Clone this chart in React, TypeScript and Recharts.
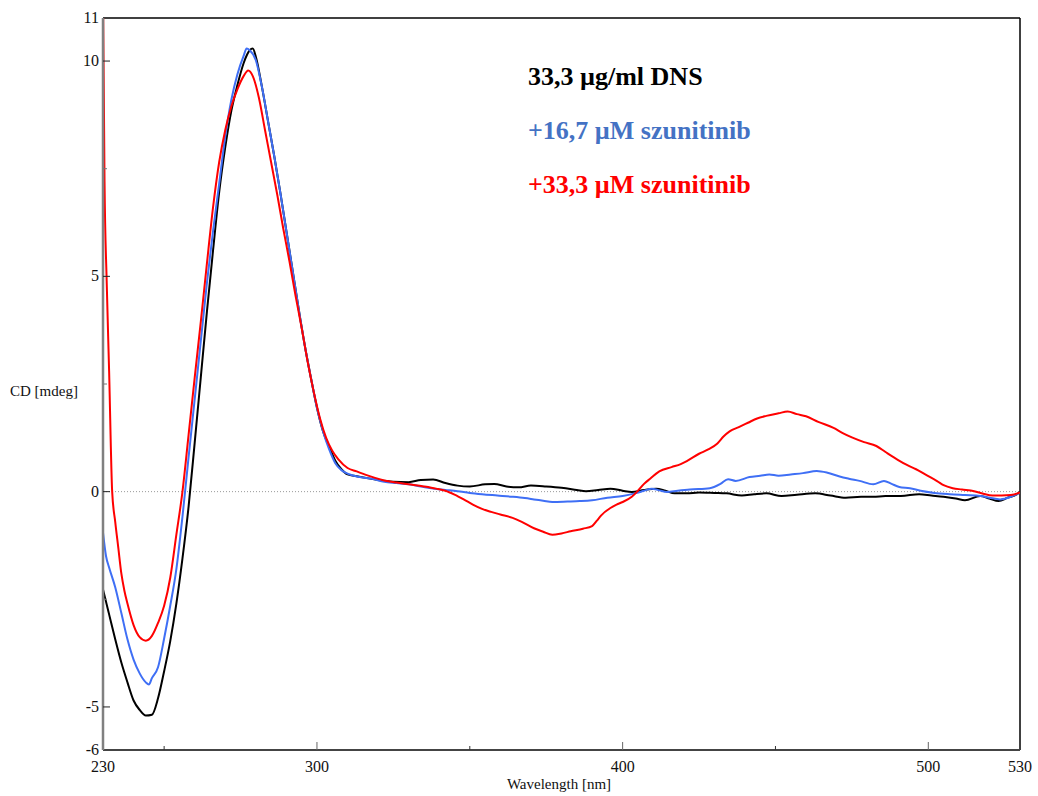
import React from "react";
import { LineChart, Line, XAxis, YAxis, ReferenceLine } from "recharts";

const xTicks = [230, 250, 300, 350, 400, 450, 500, 530];
const xLabelTicks = [230, 300, 400, 500, 530];
const xMajorTicks = [300, 400, 500];
const yTicks = [-6, -5, -2.5, 0, 2.5, 5, 7.5, 10, 11];
const yLabelTicks = [-6, -5, 0, 5, 10, 11];
const yMajorTicks = [-5, 0, 5, 10];

const legendLabels = ["33,3 µg/ml DNS", "+16,7 µM szunitinib", "+33,3 µM szunitinib"];

const blackWl = [230, 232, 234, 236, 238, 240, 242, 244, 246, 248, 250, 252, 254, 256, 258, 260, 262, 264, 266, 268, 270, 272, 274, 276, 278, 279, 280, 282, 284, 286, 288, 290, 292, 294, 296, 298, 300, 302, 304, 306, 308, 310, 313, 316, 320, 325, 330, 334, 338, 342, 346, 350, 355, 358, 362, 366, 370, 375, 380, 385, 388, 392, 396, 400, 403, 407, 411, 414, 417, 421, 425, 430, 434, 439, 443, 447, 452, 457, 463, 468, 473, 478, 482, 486, 491, 497, 501, 505, 509, 512, 517, 520, 523, 526, 529, 530];
const blackCd = [-2.27, -2.85, -3.43, -3.97, -4.43, -4.85, -5.07, -5.2, -5.18, -4.8, -4.17, -3.47, -2.6, -1.55, -0.35, 1.14, 2.66, 4.18, 5.6, 6.95, 8.0, 8.85, 9.45, 9.95, 10.25, 10.29, 10.1, 9.4, 8.6, 7.8, 6.95, 6.05, 5.15, 4.25, 3.4, 2.65, 1.95, 1.4, 1.05, 0.72, 0.52, 0.4, 0.36, 0.32, 0.27, 0.23, 0.22, 0.27, 0.28, 0.2, 0.14, 0.12, 0.17, 0.18, 0.12, 0.1, 0.14, 0.12, 0.09, 0.04, 0.01, 0.04, 0.07, 0.02, -0.01, 0.04, 0.07, 0.02, -0.04, -0.04, -0.02, -0.03, -0.04, -0.09, -0.06, -0.04, -0.1, -0.07, -0.04, -0.09, -0.14, -0.12, -0.12, -0.1, -0.1, -0.06, -0.09, -0.12, -0.16, -0.2, -0.1, -0.16, -0.22, -0.14, -0.06, 0.0];

const blueWl = [230, 231, 232, 234, 236, 238, 240, 242, 244, 245, 246, 248, 250, 252, 254, 256, 258, 260, 262, 264, 266, 268, 270, 272, 274, 276, 277, 278, 280, 282, 284, 286, 288, 290, 292, 294, 296, 298, 300, 302, 304, 306, 308, 310, 314, 318, 322, 326, 330, 334, 338, 342, 346, 350, 354, 359, 364, 368, 371, 374, 377, 382, 386, 390, 395, 400, 404, 407, 409.5, 412, 414.5, 418, 422, 428.5, 432, 434.5, 437, 441.5, 445, 448, 451, 455, 459, 463.5, 467, 471, 474, 477.5, 482, 485.5, 488, 490.5, 494, 497.5, 502, 507, 512, 517, 520, 523.5, 527, 530];
const blueCd = [-0.95, -1.5, -1.76, -2.22, -2.82, -3.43, -3.9, -4.22, -4.43, -4.48, -4.33, -4.08, -3.41, -2.65, -1.8, -0.58, 0.8, 2.15, 3.5, 4.85, 6.05, 7.15, 8.25, 9.1, 9.7, 10.12, 10.29, 10.25, 10.02, 9.4, 8.6, 7.8, 6.95, 6.05, 5.15, 4.25, 3.4, 2.65, 1.95, 1.4, 0.98, 0.66, 0.5, 0.42, 0.34, 0.3, 0.23, 0.2, 0.17, 0.12, 0.07, 0.04, 0.01, -0.03, -0.06, -0.09, -0.12, -0.15, -0.18, -0.21, -0.24, -0.23, -0.22, -0.2, -0.14, -0.1, -0.04, 0.02, 0.07, 0.03, -0.01, 0.02, 0.05, 0.08, 0.18, 0.29, 0.25, 0.34, 0.37, 0.4, 0.37, 0.4, 0.43, 0.48, 0.44, 0.35, 0.3, 0.25, 0.17, 0.25, 0.18, 0.11, 0.08, 0.02, -0.03, -0.06, -0.08, -0.1, -0.14, -0.18, -0.12, -0.02];

const redWl = [230, 230.5, 231.2, 232, 233, 234, 235, 236, 237, 238, 240, 242, 244, 246, 248, 250, 252, 254, 256, 258, 260, 262, 264, 266, 268, 270, 272, 274, 276, 277.5, 279, 281, 283, 285, 287, 289, 291, 293, 295, 297, 299, 301, 303, 305, 307, 310, 313, 316, 319, 322, 326, 330, 335, 339, 342, 345, 348, 351, 354, 357, 360, 364, 367, 371, 374, 377, 380, 383, 387, 390, 391.5, 393, 396, 398, 400, 403, 405, 407, 409, 412, 416, 419, 421, 425, 428, 431, 433, 435, 438, 441, 444, 447, 451, 454, 457, 460, 464, 469, 472, 475, 479, 483, 486, 490, 493, 496, 499, 503, 505, 508, 511, 515, 518, 521, 524, 527, 530];
const redCd = [11.6, 7.2, 4.9, 2.8, 0.0, -0.7, -1.3, -1.9, -2.3, -2.6, -3.1, -3.38, -3.46, -3.35, -3.05, -2.65, -2.0, -1.0, 0.0, 1.32, 2.65, 3.95, 5.3, 6.6, 7.65, 8.4, 8.95, 9.35, 9.65, 9.78, 9.65, 9.15, 8.4, 7.65, 6.9, 6.1, 5.35, 4.55, 3.8, 3.0, 2.3, 1.7, 1.25, 0.95, 0.75, 0.55, 0.47, 0.39, 0.32, 0.26, 0.21, 0.17, 0.12, 0.07, 0.02, -0.07, -0.18, -0.3, -0.4, -0.47, -0.53, -0.61, -0.7, -0.85, -0.93, -1.0, -0.97, -0.92, -0.86, -0.8, -0.68, -0.55, -0.38, -0.3, -0.24, -0.12, 0.02, 0.18, 0.3, 0.47, 0.57, 0.64, 0.71, 0.88, 0.98, 1.12, 1.28, 1.4, 1.5, 1.6, 1.7, 1.76, 1.82, 1.86, 1.8, 1.75, 1.62, 1.48, 1.36, 1.26, 1.15, 1.06, 0.92, 0.74, 0.62, 0.52, 0.4, 0.24, 0.15, 0.08, 0.05, 0.01, -0.05, -0.09, -0.09, -0.08, -0.02];

const toPoints = (wl: number[], cd: number[]) => wl.map((x, i) => ({ x, y: cd[i] }));
const blackData = toPoints(blackWl, blackCd);
const blueData = toPoints(blueWl, blueCd);
const redData = toPoints(redWl, redCd);

const FONT = '"Liberation Serif", "Times New Roman", "DejaVu Serif", serif';

const YTick = (props: any) => {
  const { x, y, payload } = props;
  const v = payload.value as number;
  const isMajor = yMajorTicks.includes(v);
  const hasLabel = yLabelTicks.includes(v);
  const isEnd = v === -6 || v === 11;
  return (
    <g>
      {!isEnd && (
        <line x1={x} x2={x + (isMajor ? 7 : 4)} y1={y} y2={y} stroke={isMajor ? "#222" : "#777"} strokeWidth={1} />
      )}
      {hasLabel && (
        <text x={x - 4} y={y + 5} textAnchor="end" style={{ fontFamily: FONT }} fontSize={16} fill="#111">
          {v}
        </text>
      )}
    </g>
  );
};

const XTick = (props: any) => {
  const { x, y, payload } = props;
  const v = payload.value as number;
  const isMajor = xMajorTicks.includes(v);
  const hasLabel = xLabelTicks.includes(v);
  const isEnd = v === 230 || v === 530;
  return (
    <g>
      {!isEnd && (
        <line x1={x} x2={x} y1={y} y2={y - (isMajor ? 8 : 4)} stroke={isMajor ? "#666" : "#333"} strokeWidth={1} />
      )}
      {hasLabel && (
        <text x={x} y={y + 22} textAnchor="middle" style={{ fontFamily: FONT }} fontSize={16} fill="#111">
          {v}
        </text>
      )}
    </g>
  );
};

export default function App() {
  return (
    <div style={{ position: "absolute", left: 0, top: 0, width: 1038, height: 796, background: "#fff" }}>
      <LineChart width={1038} height={796} margin={{ top: 18, right: 18, bottom: 16, left: 0 }}>
        <XAxis
          dataKey="x"
          type="number"
          domain={[230, 530]}
          allowDataOverflow
          height={30}
          ticks={xTicks}
          interval={0}
          tickSize={0}
          tickMargin={0}
          tickLine={false}
          tick={<XTick />}
          axisLine={{ stroke: "#444", strokeWidth: 2 }}
        />
        <YAxis
          type="number"
          domain={[-6, 11]}
          allowDataOverflow
          width={103}
          ticks={yTicks}
          interval={0}
          tickSize={0}
          tickMargin={0}
          tickLine={false}
          tick={<YTick />}
          axisLine={{ stroke: "#808080", strokeWidth: 2.5 }}
        />
        <ReferenceLine y={0} stroke="#999" strokeDasharray="1 2" strokeWidth={1} />
        <ReferenceLine y={11} stroke="#000" strokeWidth={1.5} />
        <ReferenceLine x={530} stroke="#000" strokeWidth={1.5} />
        <Line data={blackData} dataKey="y" type="monotone" stroke="#000000" strokeWidth={2} dot={false} isAnimationActive={false} />
        <Line data={blueData} dataKey="y" type="monotone" stroke="#3F6FF5" strokeWidth={2} dot={false} isAnimationActive={false} />
        <Line data={redData} dataKey="y" type="monotone" stroke="#FF0000" strokeWidth={2} dot={false} isAnimationActive={false} />
      </LineChart>
      <div style={{ position: "absolute", left: 10, top: 383, fontFamily: FONT, fontSize: 15, color: "#111", whiteSpace: "nowrap" }}>
        CD [mdeg]
      </div>
      <div style={{ position: "absolute", left: 459, width: 200, textAlign: "center", top: 776, fontFamily: FONT, fontSize: 15, color: "#111", whiteSpace: "nowrap" }}>
        Wavelength [nm]
      </div>
      <div style={{ position: "absolute", left: 528, top: 61, fontFamily: FONT, fontWeight: "bold", fontSize: 26, color: "#000", whiteSpace: "nowrap", lineHeight: "32px" }}>
        {legendLabels[0]}
      </div>
      <div style={{ position: "absolute", left: 528, top: 115, fontFamily: FONT, fontWeight: "bold", fontSize: 26, color: "#4472C4", whiteSpace: "nowrap", lineHeight: "32px" }}>
        {legendLabels[1]}
      </div>
      <div style={{ position: "absolute", left: 528, top: 169, fontFamily: FONT, fontWeight: "bold", fontSize: 26, color: "#FF0000", whiteSpace: "nowrap", lineHeight: "32px" }}>
        {legendLabels[2]}
      </div>
    </div>
  );
}
